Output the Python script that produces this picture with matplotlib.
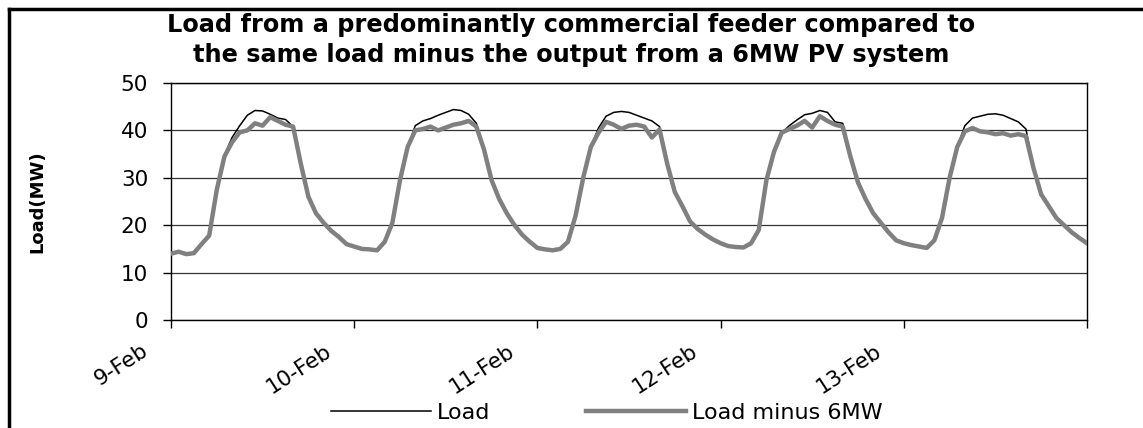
import numpy as np
import matplotlib.pyplot as plt
from matplotlib.lines import Line2D
from matplotlib.transforms import ScaledTranslation

plt.rcParams['font.family'] = 'DejaVu Sans'

# hourly readings, 9-Feb 00:00 to 14-Feb 00:00
load = [
    # 9-Feb
    14.0, 14.4, 13.9, 14.1, 16.0, 17.8, 27.5, 34.8, 38.5, 41.0, 43.2, 44.2,
    44.1, 43.4, 42.6, 42.3, 40.8, 33.0, 26.0, 22.5, 20.5, 18.8, 17.5, 16.0,
    # 10-Feb
    15.5, 15.0, 14.9, 14.7, 16.5, 20.5, 29.5, 36.5, 41.0, 42.0, 42.5, 43.2,
    43.8, 44.4, 44.2, 43.4, 41.5, 36.0, 29.5, 25.5, 22.5, 20.0, 18.0, 16.5,
    # 11-Feb
    15.2, 14.9, 14.7, 15.0, 16.5, 22.0, 30.0, 36.5, 40.5, 43.0, 43.8, 44.0,
    43.8, 43.2, 42.6, 42.0, 40.8, 33.0, 27.0, 24.0, 20.8, 19.2, 18.0, 17.0,
    # 12-Feb
    16.2, 15.6, 15.4, 15.3, 16.2, 19.0, 29.5, 35.5, 39.5, 41.0, 42.2, 43.3,
    43.6, 44.2, 43.8, 41.8, 41.5, 34.5, 29.0, 25.5, 22.5, 20.5, 18.5, 16.8,
    # 13-Feb
    16.2, 15.8, 15.5, 15.2, 16.8, 21.5, 30.0, 36.5, 41.0, 42.6, 43.0, 43.4,
    43.5, 43.2, 42.5, 41.8, 40.3, 32.0, 26.5, 24.0, 21.5, 20.0, 18.5, 17.3,
    16.2,
]
load_minus_pv = [
    14.0, 14.4, 13.9, 14.1, 16.0, 17.8, 27.5, 34.5, 37.5, 39.6, 40.0, 41.5,
    41.0, 42.8, 42.0, 41.2, 40.8, 33.0, 26.0, 22.5, 20.5, 18.8, 17.5, 16.0,
    15.5, 15.0, 14.9, 14.7, 16.5, 20.5, 29.5, 36.5, 40.0, 40.3, 40.8, 40.0,
    40.6, 41.2, 41.5, 42.0, 40.8, 36.0, 29.5, 25.5, 22.5, 20.0, 18.0, 16.5,
    15.2, 14.9, 14.7, 15.0, 16.5, 22.0, 30.0, 36.5, 39.5, 41.8, 41.2, 40.3,
    41.0, 41.2, 40.8, 38.5, 40.2, 33.0, 27.0, 24.0, 20.8, 19.2, 18.0, 17.0,
    16.2, 15.6, 15.4, 15.3, 16.2, 19.0, 29.5, 35.5, 39.5, 40.3, 41.0, 42.0,
    40.6, 43.0, 42.0, 41.2, 40.8, 34.5, 29.0, 25.5, 22.5, 20.5, 18.5, 16.8,
    16.2, 15.8, 15.5, 15.2, 16.8, 21.5, 30.0, 36.5, 39.8, 40.5, 39.8, 39.6,
    39.2, 39.4, 38.9, 39.2, 38.8, 32.0, 26.5, 24.0, 21.5, 20.0, 18.5, 17.3,
    16.2,
]
day_labels = ['9-Feb', '10-Feb', '11-Feb', '12-Feb', '13-Feb', '']

hours = np.arange(len(load))

fig = plt.figure(figsize=(11.43, 4.28), dpi=100)
ax = fig.add_axes([171/1143, 1 - 320/428, (1087 - 171)/1143, (320 - 83)/428])

ax.plot(hours, load, color='black', lw=1.1, label='Load', zorder=3)
ax.plot(hours, load_minus_pv, color='#808080', lw=3.2, label='Load minus 6MW', zorder=4)

ax.set_xlim(0, 120)
ax.set_ylim(0, 50)
ax.set_yticks(range(0, 51, 10))
ax.set_xticks(range(0, 121, 24))
ax.set_xticklabels(day_labels)
ax.yaxis.grid(True, color='#333333', lw=0.9)
ax.set_axisbelow(True)
for s in ax.spines.values():
    s.set_linewidth(1.0)

ax.tick_params(axis='both', direction='out', length=5.5, width=1.0, labelsize=15.5)
ax.tick_params(axis='y', pad=11)
offset = ScaledTranslation(-30/100, -8/100, fig.dpi_scale_trans)
for lab in ax.get_xticklabels():
    lab.set_rotation(33)
    lab.set_ha('right')
    lab.set_va('top')
    lab.set_rotation_mode('anchor')
    lab.set_transform(lab.get_transform() + offset)

ax.set_ylabel('Load(MW)', fontsize=13, fontweight='bold')
ax.yaxis.set_label_coords(-0.1365, 0.5)

fig.text(0.5, 1 - 25/428, 'Load from a predominantly commercial feeder compared to',
         ha='center', va='center', fontsize=17.3, fontweight='bold')
fig.text(0.5, 1 - 55/428, 'the same load minus the output from a 6MW PV system',
         ha='center', va='center', fontsize=17.3, fontweight='bold')

fig.legend(loc='center', bbox_to_anchor=(0.5306, 1 - 413/428), ncol=2, frameon=False,
           fontsize=16, handlelength=4.5, handletextpad=0.27, columnspacing=4.3)

# chart frame (only the left and top edges fall inside the picture)
fig.add_artist(Line2D([8.5/1143, 8.5/1143], [0, 1 - 8.5/428], color='black', lw=2.5,
                      transform=fig.transFigure))
fig.add_artist(Line2D([8.5/1143, 1], [1 - 8.5/428, 1 - 8.5/428], color='black', lw=2.5,
                      transform=fig.transFigure))

fig.savefig('out.png', dpi=100)
